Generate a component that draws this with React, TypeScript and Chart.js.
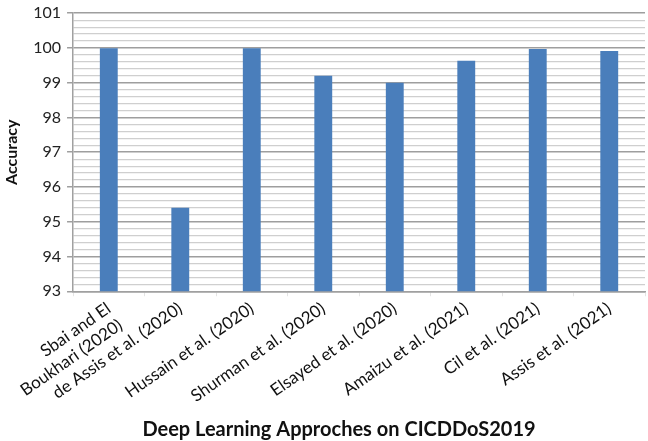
import React, { useEffect, useRef } from "react";
import { Chart, registerables } from "chart.js";

Chart.register(...registerables);

const categories: (string | string[])[] = [
  ["Sbai and El", "Boukhari (2020)"],
  "de Assis et al. (2020)",
  "Hussain et al. (2020)",
  "Shurman et al. (2020)",
  "Elsayed et al. (2020)",
  "Amaizu et al. (2021)",
  "Cil et al. (2021)",
  "Assis et al. (2021)",
];
const accuracy = [99.99, 95.4, 99.99, 99.2, 99.0, 99.63, 99.97, 99.91];
const yMin = 93;
const yMax = 101;
const yMinorStep = 0.2;
const yTitle = "Accuracy";
const xTitle = "Deep Learning Approches on CICDDoS2019";

const FONT = "Lato, 'Open Sans', sans-serif";

const isMajor = (v: number) => Math.abs(v - Math.round(v)) < 1e-6;

const xTitlePlugin = {
  id: "xTitle",
  afterDraw(chart: any) {
    const { ctx, chartArea, height } = chart;
    ctx.save();
    ctx.font = `bold 20px ${FONT}`;
    ctx.fillStyle = "#111";
    ctx.textAlign = "center";
    ctx.textBaseline = "alphabetic";
    ctx.fillText(xTitle, (chartArea.left + chartArea.right) / 2 - 20, height - 5);
    ctx.restore();
  },
};

export default function App() {
  const ref = useRef<HTMLCanvasElement | null>(null);
  useEffect(() => {
    document.body.style.margin = "0";
    const ctx = ref.current!;
    const chart = new Chart(ctx, {
      type: "bar",
      data: {
        labels: categories,
        datasets: [
          {
            data: accuracy,
            backgroundColor: "#4a7ebb",
            borderWidth: 0,
            barPercentage: 0.5,
            categoryPercentage: 0.5,
          },
        ],
      },
      plugins: [xTitlePlugin],
      options: {
        animation: false,
        responsive: false,
        maintainAspectRatio: false,
        layout: { padding: { left: 2, right: 3, top: 0, bottom: 16 } },
        plugins: { legend: { display: false }, tooltip: { enabled: false } },
        scales: {
          x: {
            grid: {
              display: true,
              drawOnChartArea: false,
              offset: true,
              tickLength: 5,
              color: "#e4e4e4",
            },
            border: { display: true, color: "#a0a0a0", width: 1.5 },
            ticks: {
              autoSkip: false,
              maxRotation: 35,
              minRotation: 35,
              color: "#111",
              font: { family: FONT, size: 17 },
              padding: 2,
            },
          },
          y: {
            min: yMin,
            max: yMax,
            ticks: {
              stepSize: yMinorStep,
              autoSkip: false,
              color: "#222",
              font: { family: FONT, size: 16, lineHeight: 0.9 },
              padding: 6,
              callback: (v: any) => (isMajor(Number(v)) ? String(Math.round(Number(v))) : ""),
            },
            grid: {
              color: (c: any) => (isMajor(c.tick.value) ? "#9e9e9e" : "#cfcfcf"),
              tickColor: (c: any) => (isMajor(c.tick.value) ? "#9e9e9e" : "rgba(0,0,0,0)"),
              tickLength: 6,
              lineWidth: (c: any) => (isMajor(c.tick.value) ? 1.5 : 1.2),
            },
            border: { display: true, color: "#a0a0a0", width: 1.5 },
            title: {
              display: true,
              text: yTitle,
              color: "#111",
              font: { family: FONT, size: 16, weight: "bold" },
              padding: { top: 0, bottom: 6 },
            },
          },
        },
      },
    } as any);
    return () => chart.destroy();
  }, []);
  return (
    <div style={{ width: 648, height: 441, background: "#fff" }}>
      <canvas ref={ref} width={648} height={441} style={{ display: "block" }} />
    </div>
  );
}
